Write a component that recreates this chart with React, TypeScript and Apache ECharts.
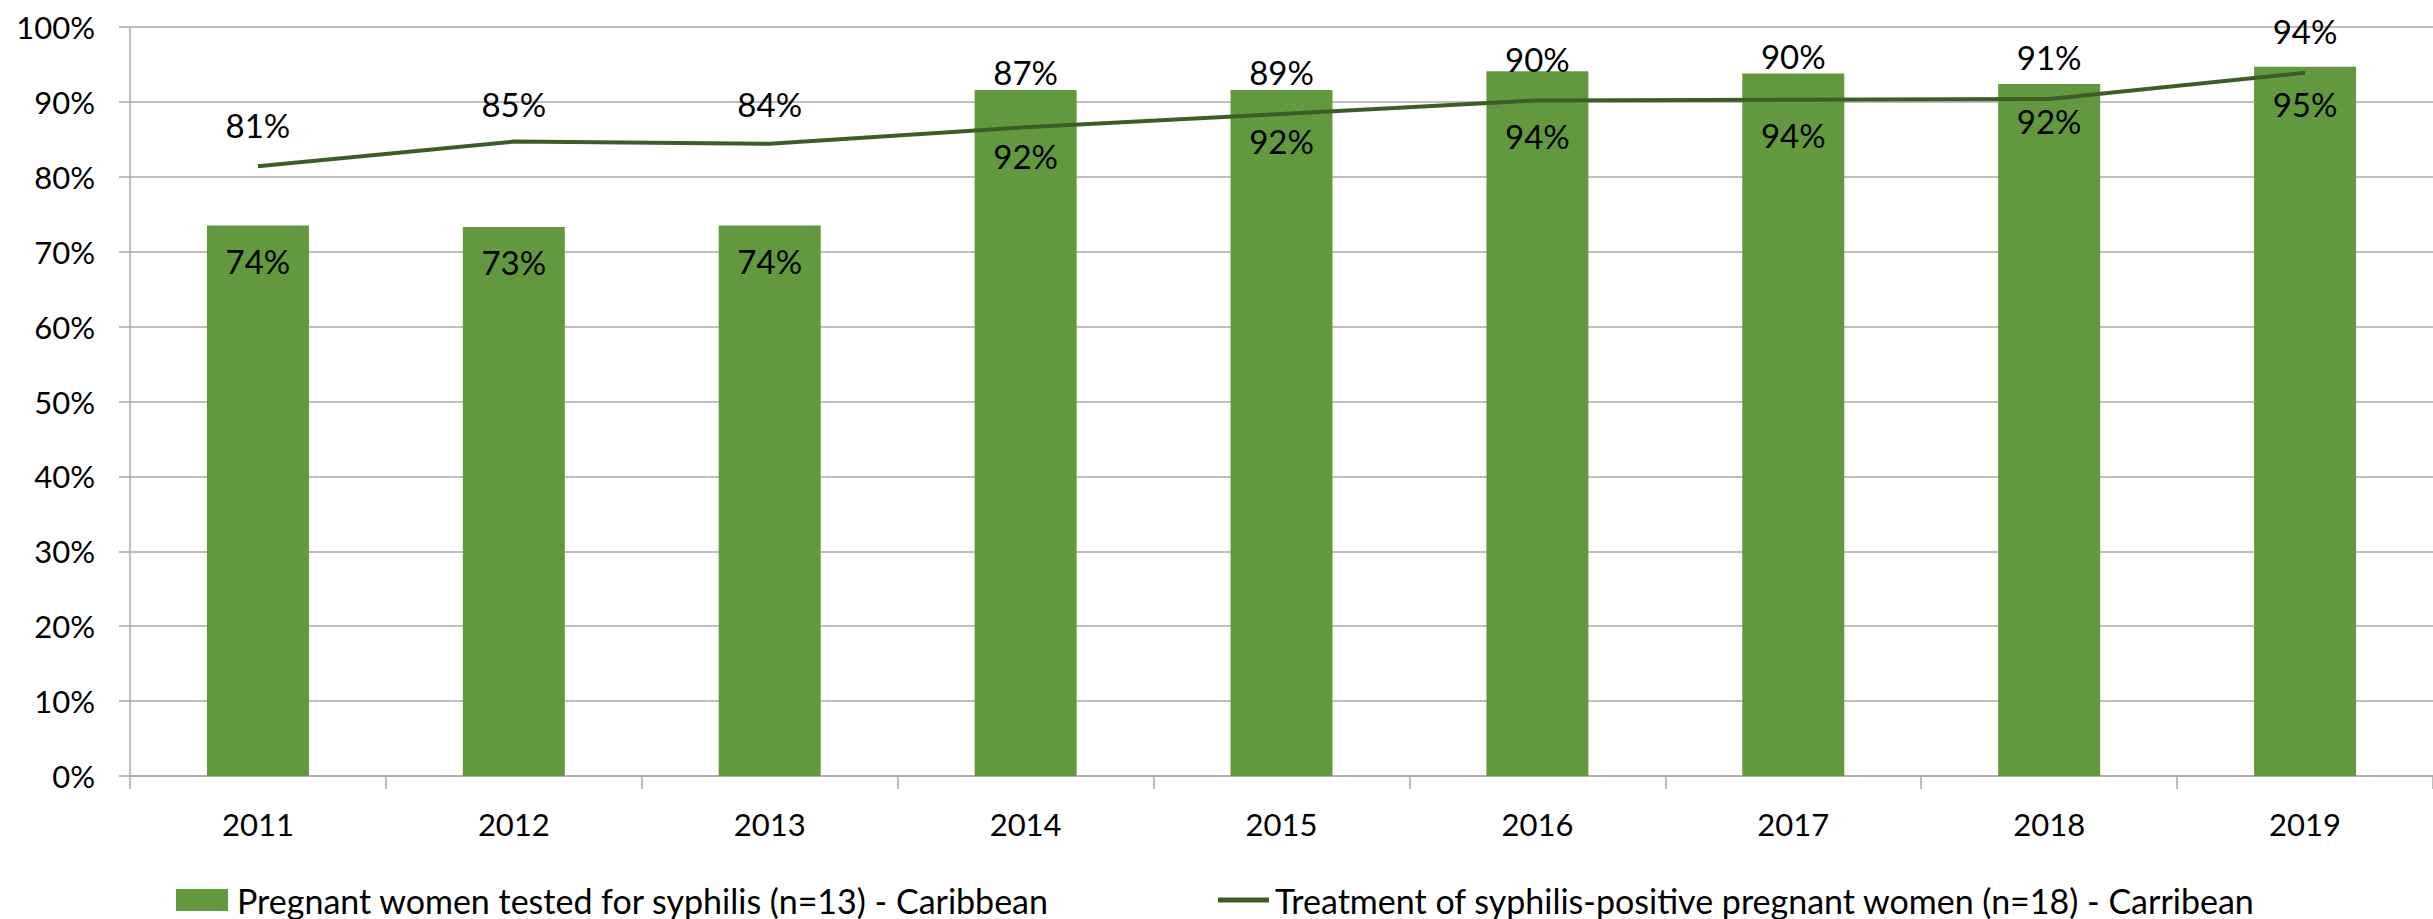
import React, { useEffect, useRef } from "react";
import * as echarts from "echarts";

const years = ["2011", "2012", "2013", "2014", "2015", "2016", "2017", "2018", "2019"];
const testedValues = [73.5, 73.3, 73.5, 91.6, 91.6, 94.1, 93.8, 92.4, 94.7];
const testedLabels = ["74%", "73%", "74%", "92%", "92%", "94%", "94%", "92%", "95%"];
const treatedValues = [81.4, 84.7, 84.4, 86.6, 88.4, 90.2, 90.3, 90.4, 93.9];
const treatedLabels = ["81%", "85%", "84%", "87%", "89%", "90%", "90%", "91%", "94%"];
const barName = "Pregnant women tested for syphilis (n=13) - Caribbean";
const lineName = "Treatment of syphilis-positive pregnant women (n=18) - Carribean";

// label nudges (style only), as placed in the original
const barLabelShift = [0, 0, 0, 31, 16, 29, 26, 2, 2];
const lineLabelShift = [0, 4, 2, -14, 0, 0, -2, 0, 0];

const BAR = "#62993e";
const LINE = "#3d5d27";
const GRID = "#a9a9a9";
const FONT = "Lato, 'Open Sans', sans-serif";

export default function App() {
  const ref = useRef<HTMLDivElement>(null);
  useEffect(() => {
    if (!ref.current) return;
    const chart = echarts.init(ref.current, null, { renderer: "svg" });
    chart.setOption({
      animation: false,
      backgroundColor: "#ffffff",
      textStyle: { fontFamily: FONT, color: "#000" },
      grid: { left: 130, right: -5, top: 27, bottom: 143, containLabel: false },
      legend: [
        {
          data: [{ name: barName, icon: "rect" }],
          left: 171,
          top: 878,
          itemWidth: 52,
          itemHeight: 22,
          textStyle: { fontSize: 34, lineHeight: 34, fontFamily: FONT, color: "#000", padding: [0, 0, 0, 4] },
        },
        {
          data: [{ name: lineName, icon: "rect", itemStyle: { color: LINE } }],
          left: 1213,
          top: 878,
          itemWidth: 51,
          itemHeight: 5,
          textStyle: { fontSize: 34, lineHeight: 34, fontFamily: FONT, color: "#000", padding: [0, 0, 0, 1] },
        },
      ],
      xAxis: {
        type: "category",
        data: years,
        boundaryGap: true,
        axisLine: { show: true, lineStyle: { color: GRID, width: 1.5 } },
        axisTick: { show: true, length: 13, lineStyle: { color: GRID, width: 1.5 } },
        axisLabel: { fontSize: 31, color: "#000", fontFamily: FONT, margin: 32 },
        splitLine: { show: false },
      },
      yAxis: {
        type: "value",
        min: 0,
        max: 100,
        interval: 10,
        axisLine: { show: true, lineStyle: { color: GRID, width: 1.5 } },
        axisTick: { show: true, length: 11, lineStyle: { color: GRID, width: 1.5 } },
        axisLabel: { formatter: "{value}%", fontSize: 31, color: "#000", fontFamily: FONT, margin: 35 },
        splitLine: { show: true, lineStyle: { color: GRID, width: 1.5 } },
      },
      series: [
        {
          name: barName,
          type: "bar",
          barWidth: 102,
          itemStyle: { color: BAR },
          data: testedValues,
          label: {
            show: true,
            position: "insideTop",
            distance: 19,
            fontSize: 33,
            color: "#000",
            fontFamily: FONT,
            formatter: (p: any) => testedLabels[p.dataIndex],
          },
          labelLayout: (p: any) => ({ dy: barLabelShift[p.dataIndex], hideOverlap: false }),
          z: 2,
        },
        {
          name: lineName,
          type: "line",
          symbol: "circle",
          symbolSize: 0.1,
          showSymbol: true,
          lineStyle: { color: LINE, width: 4 },
          itemStyle: { color: LINE },
          data: treatedValues,
          label: {
            show: true,
            position: "top",
            distance: 25,
            fontSize: 33,
            color: "#000",
            fontFamily: FONT,
            formatter: (p: any) => treatedLabels[p.dataIndex],
          },
          labelLayout: (p: any) => ({ dy: lineLabelShift[p.dataIndex], hideOverlap: false }),
          z: 3,
        },
      ],
    });
    return () => chart.dispose();
  }, []);
  return (
    <div
      ref={ref}
      style={{ position: "absolute", left: 0, top: 0, width: 2433, height: 919 }}
    />
  );
}
